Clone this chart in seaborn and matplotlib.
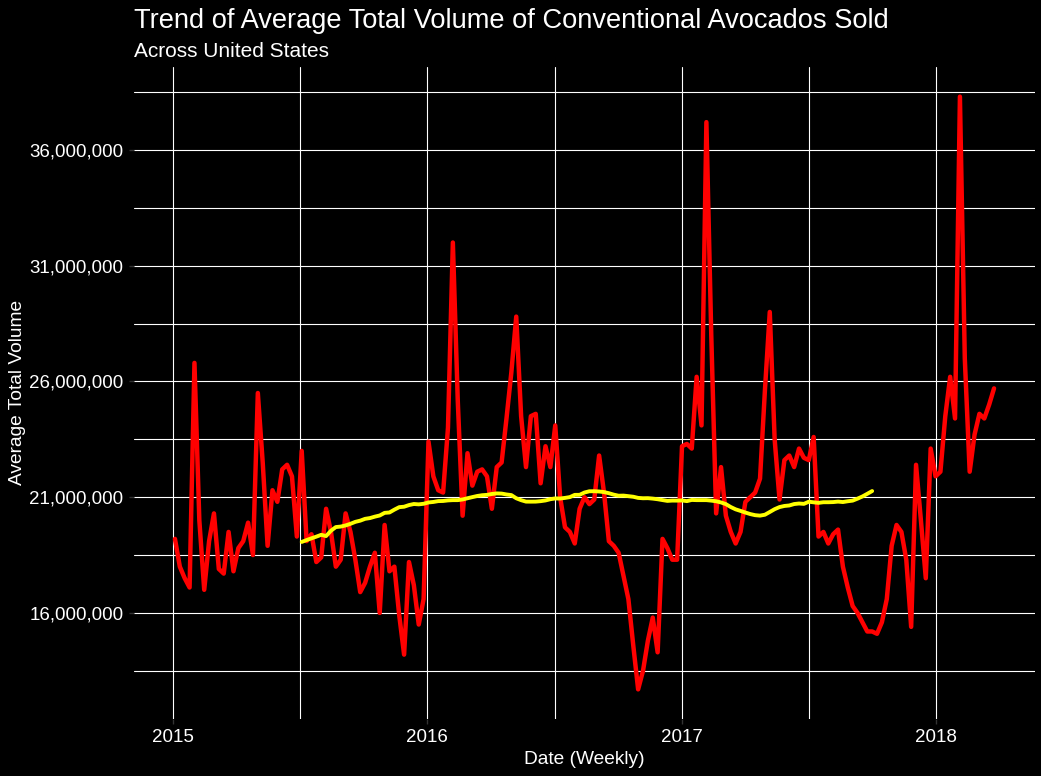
import numpy as np
import pandas as pd
import matplotlib
matplotlib.use("Agg")
import matplotlib.pyplot as plt
import matplotlib.dates as mdates
import matplotlib.ticker as mticker
import seaborn as sns

# ---------------- data (weekly, millions of units) ----------------
start_date = "2015-01-04"
volume_millions = [
    19.2, 18.0, 17.5, 17.1, 26.8, 20.0, 17.0, 19.1, 20.3, 17.9,
    17.7, 19.5, 17.8, 18.8, 19.1, 19.9, 18.5, 25.5, 22.5, 18.9,
    21.3, 20.8, 22.2, 22.4, 21.9, 19.3, 23.0, 19.1, 19.4, 18.2,
    18.4, 20.5, 19.5, 18.0, 18.3, 20.3, 19.5, 18.3, 16.9, 17.3,
    18.0, 18.6, 16.0, 19.8, 17.8, 18.0, 15.9, 14.2, 18.2, 17.2,
    15.5, 16.6, 23.4, 21.9, 21.3, 21.2, 24.0, 32.0, 25.2, 20.2,
    22.9, 21.5, 22.1, 22.2, 21.9, 20.5, 22.3, 22.5, 24.4, 26.4,
    28.8, 24.5, 22.3, 24.5, 24.6, 21.6, 23.2, 22.3, 24.1, 21.0,
    19.7, 19.5, 19.0, 20.5, 21.0, 20.7, 20.9, 22.8, 21.2, 19.1,
    18.9, 18.6, 17.6, 16.6, 14.6, 12.7, 13.5, 14.8, 15.8, 14.3,
    19.2, 18.8, 18.3, 18.3, 23.2, 23.3, 23.1, 26.2, 24.1, 37.2,
    28.0, 20.3, 22.3, 20.2, 19.5, 19.0, 19.5, 20.8, 21.0, 21.2,
    21.8, 25.6, 29.0, 23.5, 20.9, 22.6, 22.8, 22.3, 23.1, 22.7,
    22.6, 23.6, 19.3, 19.5, 19.0, 19.4, 19.6, 18.0, 17.1, 16.3,
    16.0, 15.6, 15.2, 15.2, 15.1, 15.6, 16.6, 18.9, 19.8, 19.5,
    18.3, 15.4, 22.4, 20.0, 17.5, 23.1, 21.9, 22.1, 24.5, 26.2,
    24.4, 38.3, 27.0, 22.1, 23.7, 24.6, 24.4, 25.0, 25.7,
]
moving_window_weeks = 52

major_y_ticks = [16e6, 21e6, 26e6, 31e6, 36e6]
minor_y_ticks = [13.5e6, 18.5e6, 23.5e6, 28.5e6, 33.5e6, 38.5e6]
major_x_ticks = ["2015-01-01", "2016-01-01", "2017-01-01", "2018-01-01"]
minor_x_ticks = ["2015-07-02", "2016-07-02", "2017-07-02"]
x_tick_labels = ["2015", "2016", "2017", "2018"]

title = "Trend of Average Total Volume of Conventional Avocados Sold"
subtitle = "Across United States"
x_label = "Date (Weekly)"
y_label = "Average Total Volume"

# ---------------- frame ----------------
dates = pd.date_range(start_date, periods=len(volume_millions), freq="7D")
df = pd.DataFrame({"Date": dates, "Volume": np.array(volume_millions) * 1e6})
df["MA"] = df["Volume"].rolling(moving_window_weeks, center=True).mean()

sns.set_theme(style="dark")
plt.rcParams["font.family"] = ["Liberation Sans", "DejaVu Sans"]

W, H = 1041, 776
fig = plt.figure(figsize=(W / 100, H / 100), dpi=100, facecolor="black")
ax = fig.add_axes([134 / W, 1 - 719 / H, (1035 - 134) / W, (719 - 67) / H])
ax.set_facecolor("black")

sns.lineplot(data=df, x="Date", y="Volume", ax=ax, color="#FF0000", linewidth=3.2, zorder=3)
sns.lineplot(data=df.dropna(), x="Date", y="MA", ax=ax, color="#FFFF00", linewidth=2.8, zorder=4)

ax.set_xticks(mdates.date2num(pd.to_datetime(major_x_ticks)))
ax.set_xticklabels(x_tick_labels)
ax.set_xticks(mdates.date2num(pd.to_datetime(minor_x_ticks)), minor=True)
ax.set_yticks(major_y_ticks)
ax.set_yticks(minor_y_ticks, minor=True)
ax.yaxis.set_major_formatter(mticker.FuncFormatter(lambda v, p: f"{v:,.0f}"))

ax.grid(True, which="major", color="white", linewidth=0.8)
ax.grid(True, which="minor", color="white", linewidth=0.8)
ax.set_axisbelow(True)
for s in ax.spines.values():
    s.set_visible(False)

ax.tick_params(axis="both", which="major", colors="#333333", labelcolor="white",
               labelsize=13.5, length=3.5, width=1, pad=4, bottom=True, left=True)
ax.tick_params(axis="both", which="minor", length=0)
ax.set_xlabel("")
ax.set_ylabel("")

fig.text(134 / W, 1 - 28 / H, title, color="white", fontsize=19.6, ha="left", va="baseline")
fig.text(134 / W, 1 - 57 / H, subtitle, color="white", fontsize=15, ha="left", va="baseline")
fig.text(584.5 / W, 1 - 759 / H, x_label, color="white", fontsize=13.8, ha="center", va="center")
fig.text(18 / W, 1 - 392 / H, y_label, color="white", fontsize=13.8, ha="center", va="center",
         rotation=90)

fig.savefig("out.png", dpi=100, facecolor="black")
